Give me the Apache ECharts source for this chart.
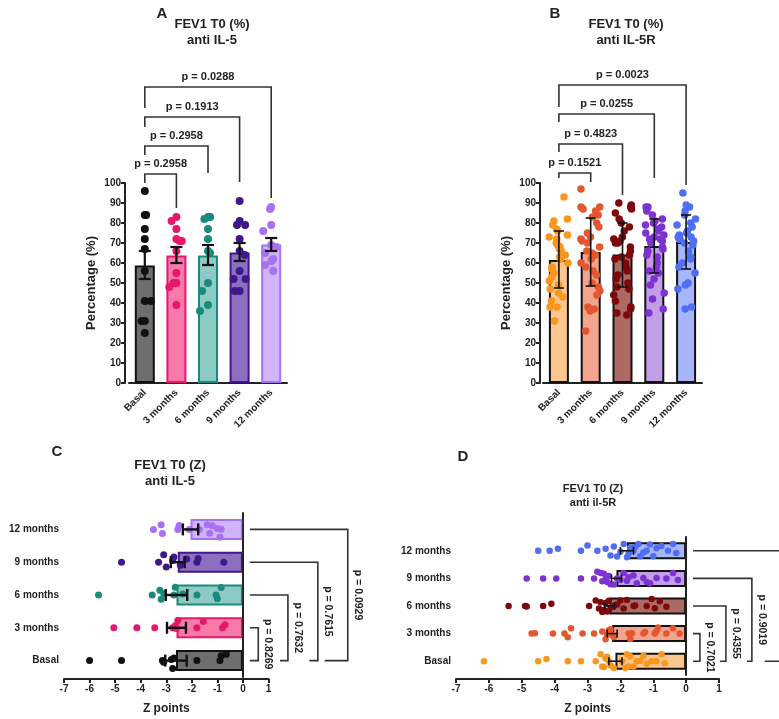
<!DOCTYPE html>
<html>
<head>
<meta charset="utf-8">
<script src="https://cdn.jsdelivr.net/npm/echarts@6/dist/echarts.min.js"></script>
<style>
  html, body { margin: 0; padding: 0; background: #fff; }
  #main { width: 779px; height: 719px; }
</style>
</head>
<body>
<div id="main"></div>
<script>
// categories
var cats = ['Basal', '3 months', '6 months', '9 months', '12 months'];

// A: FEV1 T0 (%) anti IL-5  (points, mean, SEM range)
var basalA = [96, 84, 84, 77, 72, 67, 56, 41, 41, 31, 31, 25];
var m3A = [83, 81, 77, 72, 71, 71, 66, 55, 50, 50, 48, 39];
var m6A = [83, 83, 82, 77, 72, 66, 65, 50, 46, 39, 36];
var m9A = [91, 81, 79, 79, 72, 66, 64, 56, 52, 52, 46, 46];
var m12A = [88, 87, 79, 76, 69, 68, 65, 62, 61, 59, 56];
var meanA = [58.8, 63.8, 63.8, 65.2, 69.3];
var loA = [52, 60, 59, 61, 66];
var hiA = [66, 68, 69, 70, 72.5];
var pA = ['p = 0.2958', 'p = 0.2958', 'p = 0.1913', 'p = 0.0288'];

// B: FEV1 T0 (%) anti IL-5R  (points, mean, SD range)
var basalB = [93, 82, 81, 79, 77, 76, 74, 73, 72, 70, 69, 68, 67, 66, 64, 63, 62, 60, 58, 57, 55, 53, 51, 49, 47, 45, 43, 41, 38, 38, 31];
var m3B = [97, 88, 88, 87, 86, 84, 83, 80, 78, 75, 73, 72, 71, 70, 68, 66, 65, 64, 62, 60, 58, 56, 54, 50, 48, 46, 44, 38, 37, 36, 26];
var m6B = [90, 89, 88, 87, 85, 82, 80, 78, 76, 73, 72, 71, 70, 70, 68, 66, 64, 63, 62, 60, 58, 56, 54, 52, 50, 48, 47, 44, 41, 38, 37, 35, 34];
var m9B = [88, 88, 86, 84, 82, 81, 80, 79, 78, 77, 76, 75, 74, 73, 72, 72, 71, 70, 68, 67, 66, 64, 63, 60, 58, 56, 55, 52, 49, 45, 42, 37, 35];
var m12B = [95, 89, 88, 86, 84, 82, 80, 79, 78, 76, 75, 74, 73, 73, 72, 72, 71, 70, 69, 66, 63, 62, 60, 58, 55, 50, 49, 47, 38, 37];
var meanB = [61.5, 65.5, 64.3, 68.5, 70.5];
var loB = [47.5, 48.5, 48, 55, 57];
var hiB = [76, 82.5, 80, 82, 84];
var pB = ['p = 0.1521', 'p = 0.4823', 'p = 0.0255', 'p = 0.0023'];

// C: FEV1 T0 (Z) anti IL-5
var basalC = [-6.0, -4.75, -3.15, -3.1, -2.8, -2.75, -2.7, -1.8, -0.9, -0.85, -0.65];
var m3C = [-5.05, -4.15, -3.45, -2.75, -2.7, -2.65, -2.6, -2.55, -1.8, -1.55, -0.8, -0.7];
var m6C = [-5.65, -3.55, -3.25, -3.2, -3.1, -2.7, -2.65, -2.35, -1.8, -1.05, -1.0, -0.85];
var m9C = [-4.75, -3.3, -3.1, -3.0, -2.75, -2.7, -2.45, -2.2, -1.8, -1.75, -0.75];
var m12C = [-3.5, -3.2, -3.15, -2.55, -2.5, -2.1, -1.7, -1.4, -1.3, -1.2, -1.0, -0.9, -0.85];
var meanC = [-2.62, -2.6, -2.6, -2.55, -2.05];
var errC = [0.42, 0.37, 0.42, 0.27, 0.3];
var pC = ['p = 0.8269', 'p = 0.7632', 'p = 0.7615', 'p = 0.0929'];

// D: FEV1 T0 (Z) anti il-5R
var basalD = [-6.15, -4.5, -4.25, -3.6, -3.2, -2.75, -2.6, -2.55, -2.5, -2.45, -2.4, -2.35, -2.3, -2.2, -1.95, -1.85, -1.8, -1.75, -1.7, -1.6, -1.5, -1.4, -1.3, -1.2, -1.05, -0.9, -0.75, -0.65];
var m3D = [-4.7, -4.6, -4.05, -3.7, -3.6, -3.5, -3.15, -2.8, -2.55, -2.45, -2.4, -2.35, -2.3, -2.25, -2.2, -1.75, -1.7, -1.65, -1.3, -1.25, -0.95, -0.9, -0.85, -0.6, -0.4, -0.2];
var m6D = [-5.4, -4.9, -4.85, -4.35, -4.1, -2.95, -2.75, -2.65, -2.6, -2.55, -2.5, -2.45, -2.4, -2.35, -2.3, -2.2, -2.1, -2.0, -1.9, -1.8, -1.6, -1.55, -1.2, -1.05, -0.95, -0.8, -0.6];
var m9D = [-4.85, -4.35, -3.95, -3.2, -2.8, -2.7, -2.6, -2.55, -2.5, -2.45, -2.4, -2.35, -2.3, -2.2, -2.1, -2.0, -1.9, -1.8, -1.75, -1.6, -1.5, -1.3, -1.2, -1.1, -0.9, -0.6, -0.4, -0.25];
var m12D = [-4.5, -4.15, -3.9, -3.2, -3.0, -2.7, -2.45, -2.3, -2.2, -2.1, -2.0, -1.9, -1.8, -1.75, -1.7, -1.6, -1.55, -1.45, -1.4, -1.3, -1.2, -1.1, -1.0, -0.9, -0.75, -0.55, -0.4, -0.3];
var meanD = [-2.15, -2.25, -2.33, -2.12, -1.8];
var errD = [0.2, 0.15, 0.15, 0.15, 0.2];
var pD = ['p = 0.7021', 'p = 0.4355', 'p = 0.9019', ''];

// colours
var dotIL5 = ['#111111', '#e8176e', '#1a8a7e', '#40188a', '#a772f2'];
var fillIL5 = ['#6e6e6e', '#f77aa8', '#8ccac3', '#8c6fc0', '#d0b5fa'];
var dotIL5R = ['#f8961e', '#e4572e', '#7c0a0a', '#7d33d2', '#4f6ef2'];
var fillIL5R = ['#fdc68e', '#f2a48f', '#ad6a65', '#c29de8', '#a7b6fa'];

var FONT = 'Arial, "Liberation Sans", sans-serif';
var INK = '#222';

// bracket geometry (data units), vertical charts: [from, to, top, leftEnd, rightEnd]
var brA = [[0, 1, 104.5, 100, 87.5], [0, 2, 118.5, 114, 105], [0, 3, 133, 128, 100.5], [0, 4, 148, 137.5, 92.5]];
var brB = [[0, 1, 105, 102.5, 100.5], [0, 2, 119.5, 115.5, 94], [0, 3, 134.5, 130.5, 102.5], [0, 4, 149, 138, 99]];
// horizontal charts: [topStart, topCat, vertical, bottomStart]
var brC = [[0.27, 1, 0.6, 0.27], [0.27, 2, 1.76, 1.45], [0.27, 3, 2.93, 2.6], [0.27, 4, 4.1, 3.2]];
var brD = [[0.21, 1, 0.42, 0.21], [0.21, 2, 1.21, 1.03], [0.21, 3, 2.0, 1.85], [0.21, 4, 3.2, 2.39]];

var myChart = echarts.init(document.getElementById('main'));

function bracketV(labels) {
    return function (params, api) {
        var i0 = api.value(0), i1 = api.value(1), top = api.value(2);
        var a = api.coord([i0, api.value(3)]), b = api.coord([i0, top]);
        var c = api.coord([i1, top]), d = api.coord([i1, api.value(4)]);
        return {
            type: 'group',
            children: [{
                type: 'polyline',
                shape: { points: [a, b, c, d] },
                style: { stroke: '#333', lineWidth: 1.6, fill: null }
            }, {
                type: 'text',
                x: (b[0] + c[0]) / 2,
                y: b[1] - 5,
                style: { text: labels[params.dataIndex], align: 'center', verticalAlign: 'bottom', font: 'bold 11px ' + FONT, fill: INK }
            }]
        };
    };
}

function bracketH(labels) {
    return function (params, api) {
        var cat = api.value(1);
        var a = api.coord([api.value(0), cat]), b = api.coord([api.value(2), cat]);
        var c = api.coord([api.value(2), 0]), d = api.coord([api.value(3), 0]);
        return {
            type: 'group',
            children: [{
                type: 'polyline',
                shape: { points: [a, b, c, d] },
                style: { stroke: '#333', lineWidth: 1.6, fill: null }
            }, {
                type: 'text',
                x: b[0] + 10,
                y: (b[1] + c[1]) / 2,
                rotation: -Math.PI / 2,
                style: { text: labels[params.dataIndex], align: 'center', verticalAlign: 'middle', font: 'bold 10.5px ' + FONT, fill: INK }
            }]
        };
    };
}

function errV(cap, lw) {
    return function (params, api) {
        var lo = api.coord([api.value(0), api.value(1)]);
        var hi = api.coord([api.value(0), api.value(2)]);
        var s = { stroke: '#111', lineWidth: lw };
        return {
            type: 'group',
            children: [
                { type: 'line', shape: { x1: lo[0], y1: lo[1], x2: hi[0], y2: hi[1] }, style: s },
                { type: 'line', shape: { x1: lo[0] - cap, y1: lo[1], x2: lo[0] + cap, y2: lo[1] }, style: s },
                { type: 'line', shape: { x1: hi[0] - cap, y1: hi[1], x2: hi[0] + cap, y2: hi[1] }, style: s }
            ]
        };
    };
}

function errH(cap, lw) {
    return function (params, api) {
        var lo = api.coord([api.value(0), api.value(1)]);
        var hi = api.coord([api.value(2), api.value(1)]);
        var s = { stroke: '#111', lineWidth: lw };
        return {
            type: 'group',
            children: [
                { type: 'line', shape: { x1: lo[0], y1: lo[1], x2: hi[0], y2: hi[1] }, style: s },
                { type: 'line', shape: { x1: lo[0], y1: lo[1] - cap, x2: lo[0], y2: lo[1] + cap }, style: s },
                { type: 'line', shape: { x1: hi[0], y1: hi[1] - cap, x2: hi[0], y2: hi[1] + cap }, style: s }
            ]
        };
    };
}

var lblStyle = { color: INK, fontWeight: 'bold', fontSize: 10, fontFamily: FONT };
var lineStyle = { color: '#222', width: 2 };

function vCatAxis(idx, jit, overlap) {
    return {
        type: 'category', gridIndex: idx, data: cats,
        jitter: jit, jitterOverlap: overlap,
        axisLine: { lineStyle: lineStyle },
        axisTick: { alignWithLabel: true, length: 4, lineStyle: lineStyle },
        axisLabel: Object.assign({ rotate: 45, margin: 8 }, lblStyle)
    };
}
function vValAxis(idx, off) {
    return {
        type: 'value', gridIndex: idx, min: 0, max: 100, interval: 10, offset: off,
        name: 'Percentage (%)', nameLocation: 'middle', nameGap: 27,
        nameTextStyle: { color: INK, fontWeight: 'bold', fontSize: 13, fontFamily: FONT },
        axisLine: { show: true, lineStyle: lineStyle },
        axisTick: { show: true, length: 4, lineStyle: lineStyle },
        axisLabel: Object.assign({ margin: 4 }, lblStyle),
        splitLine: { show: false }
    };
}
function hValAxis(idx, off) {
    return {
        type: 'value', gridIndex: idx, min: -7, max: 1, interval: 1, offset: off,
        name: 'Z points', nameLocation: 'middle', nameGap: 24,
        nameTextStyle: { color: INK, fontWeight: 'bold', fontSize: 12, fontFamily: FONT },
        axisLine: { show: true, onZero: false, lineStyle: lineStyle },
        axisTick: { show: true, length: 4, lineStyle: lineStyle },
        axisLabel: Object.assign({ margin: 5 }, lblStyle),
        splitLine: { show: false }
    };
}
function hCatAxis(idx, jit) {
    return {
        type: 'category', gridIndex: idx, data: cats,
        jitter: jit, jitterOverlap: false,
        axisLine: { lineStyle: lineStyle },
        axisTick: { alignWithLabel: true, length: 4, lineStyle: lineStyle },
        axisLabel: Object.assign({ margin: 5 }, lblStyle)
    };
}

var ptsA = [basalA, m3A, m6A, m9A, m12A];
var ptsB = [basalB, m3B, m6B, m9B, m12B];
var ptsC = [basalC, m3C, m6C, m9C, m12C];
var ptsD = [basalD, m3D, m6D, m9D, m12D];

var series = [];

// bars
function barSeries(gi, means, fills, borders, width, horizontal, bw) {
    return {
        type: 'bar', xAxisIndex: gi, yAxisIndex: gi, barWidth: width, z: 2,
        data: means.map(function (v, i) {
            return { value: v, itemStyle: { color: fills[i], borderColor: borders[i], borderWidth: bw } };
        }),
        markLine: horizontal ? {
            silent: true, symbol: 'none', label: { show: false },
            lineStyle: { color: '#222', width: 1.6, type: 'solid' },
            data: [{ xAxis: 0 }]
        } : undefined
    };
}
var black5 = ['#111', '#111', '#111', '#111', '#111'];
series.push(barSeries(0, meanA, fillIL5, dotIL5, 20, false, 2));
series.push(barSeries(1, meanB, fillIL5R, black5, 20, false, 2));
series.push(barSeries(2, meanC, fillIL5, dotIL5, 21, true, 2));
series.push(barSeries(3, meanD, fillIL5R, black5, 17, true, 2));

// points
function dots(gi, lists, colors, size, horizontal) {
    lists.forEach(function (arr, i) {
        series.push({
            type: 'scatter', xAxisIndex: gi, yAxisIndex: gi, z: 3,
            symbolSize: size,
            itemStyle: { color: colors[i], opacity: 1 },
            data: arr.map(function (v) { return horizontal ? [v, i] : [i, v]; })
        });
    });
}
dots(0, ptsA, dotIL5, 8, false);
dots(1, ptsB, dotIL5R, 7.5, false);
dots(2, ptsC, dotIL5, 7, true);
dots(3, ptsD, dotIL5R, 6.5, true);

// error bars
series.push({ type: 'custom', xAxisIndex: 0, yAxisIndex: 0, z: 4, renderItem: errV(6, 2.2),
    data: meanA.map(function (v, i) { return [i, loA[i], hiA[i]]; }) });
series.push({ type: 'custom', xAxisIndex: 1, yAxisIndex: 1, z: 4, renderItem: errV(5, 1.6),
    data: meanB.map(function (v, i) { return [i, loB[i], hiB[i]]; }) });
series.push({ type: 'custom', xAxisIndex: 2, yAxisIndex: 2, z: 4, renderItem: errH(6, 2.4),
    data: meanC.map(function (v, i) { return [v - errC[i], i, v + errC[i]]; }) });
series.push({ type: 'custom', xAxisIndex: 3, yAxisIndex: 3, z: 4, renderItem: errH(4, 1.6),
    data: meanD.map(function (v, i) { return [v - errD[i], i, v + errD[i]]; }) });

// significance brackets
series.push({ type: 'custom', xAxisIndex: 0, yAxisIndex: 0, renderItem: bracketV(pA), data: brA });
series.push({ type: 'custom', xAxisIndex: 1, yAxisIndex: 1, renderItem: bracketV(pB), data: brB });
series.push({ type: 'custom', xAxisIndex: 2, yAxisIndex: 2, renderItem: bracketH(pC), data: brC });
series.push({ type: 'custom', xAxisIndex: 3, yAxisIndex: 3, renderItem: bracketH(pD), data: brD });

function ttl(text, left, top, size) {
    return {
        text: text, left: left, top: top, textAlign: 'center',
        textStyle: { fontSize: size, fontWeight: 'bold', color: INK, fontFamily: FONT, lineHeight: size + 3 }
    };
}

var option = {
    backgroundColor: '#fff',
    animation: false,
    title: [
        ttl('A', 157, 0, 15), ttl('B', 550, 0, 15), ttl('C', 52, 438, 15), ttl('D', 458, 443, 15),
        ttl('FEV1 T0 (%)\nanti IL-5', 207, 11, 13),
        ttl('FEV1 T0 (%)\nanti IL-5R', 621, 11, 13),
        ttl('FEV1 T0 (Z)\nanti IL-5', 165, 452, 13),
        ttl('FEV1 T0 (Z)\nanti il-5R', 588, 477, 11)
    ],
    grid: [
        { left: 129, top: 183, width: 158, height: 200 },
        { left: 543, top: 183, width: 159, height: 200 },
        { left: 64, top: 513, width: 204.5, height: 164 },
        { left: 456, top: 537, width: 263, height: 138 }
    ],
    xAxis: [vCatAxis(0, 16, false), vCatAxis(1, 20, true), hValAxis(2, 2), hValAxis(3, 4)],
    yAxis: [vValAxis(0, 4), vValAxis(1, 3), hCatAxis(2, 16), hCatAxis(3, 14)],
    series: series
};

myChart.setOption(option);
window.addEventListener('resize', function () {
    myChart.resize();
});
</script>
</body>
</html>
